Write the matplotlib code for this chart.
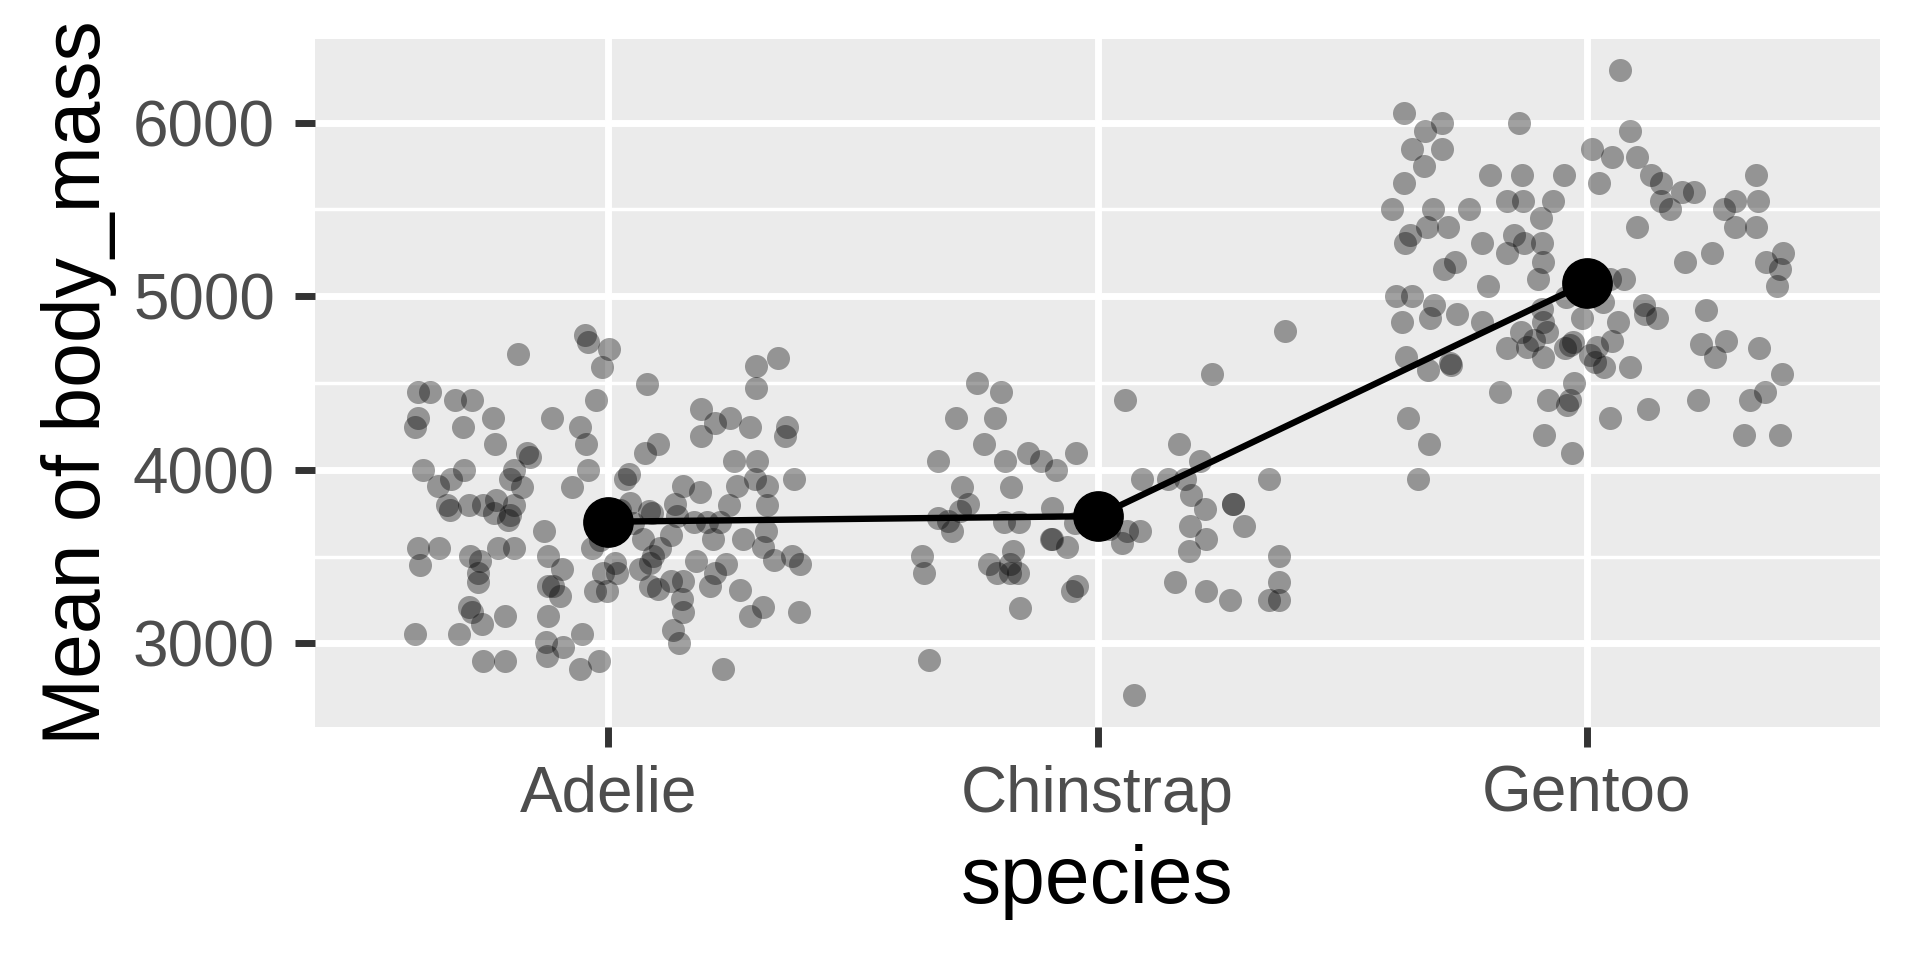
import numpy as np
import matplotlib.pyplot as plt
import matplotlib
import matplotlib.ticker as ticker

matplotlib.rc('font', family=['Liberation Sans', 'DejaVu Sans'])

species = ['Adelie', 'Chinstrap', 'Gentoo']
mean_mass = [3701, 3733, 5076]

# jitter offsets (in category units) and body mass
adelie_dx = [-0.048, -0.041, 0.002, -0.014, -0.184, 0.078, 0.302, 0.346, 0.302, -0.389,
             -0.365, -0.314, -0.280, -0.025, -0.237, -0.389, -0.396, -0.297, -0.115, -0.058,
             -0.046, -0.231, 0.190, 0.218, 0.248, 0.290, 0.190, 0.366, 0.362, 0.102,
             0.074, -0.167, -0.160, -0.379, -0.295, -0.321, -0.348, -0.194, -0.201, -0.176,
             -0.041, -0.074, 0.043, 0.033, 0.256, 0.304, 0.379, 0.300, 0.263, 0.324,
             0.153, 0.188, 0.246, 0.324, -0.331, -0.324, -0.286, -0.257, -0.229, -0.194,
             -0.235, -0.205, -0.201, 0.044, 0.089, 0.082, 0.136, 0.140, 0.174, 0.201,
             0.229, 0.128, -0.131, -0.034, 0.070, 0.214, 0.276, 0.323, 0.317, -0.389,
             -0.346, -0.385, -0.284, -0.263, -0.266, -0.266, -0.225, -0.194, -0.123, -0.095,
             -0.123, -0.113, -0.100, 0.106, 0.092, 0.085, 0.014, 0.017, -0.012, 0.065,
             -0.027, -0.003, 0.085, 0.102, 0.128, 0.153, 0.150, 0.153, 0.179, 0.241,
             0.218, 0.207, 0.338, 0.375, 0.392, 0.268, 0.317, 0.290, 0.389, -0.286,
             -0.280, -0.259, -0.211, -0.123, -0.396, -0.305, -0.128, -0.126, -0.093, -0.055,
             0.133, 0.145, -0.257, -0.211, -0.058, -0.020, 0.235, 0.024, 0.051, -0.017]
adelie_mass = [4774, 4736, 4698, 4593, 4669, 4497, 4597, 4646, 4474, 4449,
               4449, 4402, 4402, 4402, 4296, 4296, 4245, 4245, 4296, 4245,
               4149, 4149, 4348, 4272, 4296, 4245, 4197, 4245, 4197, 4149,
               4096, 4096, 4076, 4000, 4000, 3946, 3904, 4000, 3946, 3899,
               4000, 3901, 3977, 3946, 4048, 4048, 3946, 3946, 3904, 3904,
               3904, 3870, 3799, 3799, 3799, 3771, 3799, 3799, 3828, 3799,
               3751, 3713, 3742, 3809, 3751, 3761, 3803, 3732, 3700, 3700,
               3700, 3627, 3650, 3551, 3602, 3602, 3602, 3650, 3556, 3551,
               3551, 3451, 3503, 3474, 3407, 3354, 3551, 3551, 3503, 3426,
               3331, 3331, 3273, 3551, 3503, 3465, 3465, 3407, 3407, 3426,
               3302, 3302, 3331, 3312, 3359, 3359, 3254, 3178, 3474, 3455,
               3407, 3331, 3480, 3503, 3455, 3306, 3207, 3159, 3178, 3207,
               3178, 3111, 3159, 3159, 3054, 3054, 3006, 2929, 2977, 3054,
               3078, 3000, 2901, 2901, 2853, 2901, 2853, 3771, 3694, 3598]

chinstrap_dx = [0.384, 0.235, 0.057, -0.246, -0.197, -0.289, -0.209, -0.233, -0.327, -0.189,
                -0.143, -0.116, -0.084, -0.043, 0.167, 0.210, 0.092, 0.145, 0.178, 0.351,
                -0.278, -0.177, -0.265, -0.281, -0.327, -0.305, -0.297, -0.192, -0.160, -0.094,
                -0.096, -0.093, -0.063, 0.192, 0.219, 0.278, 0.299, 0.190, 0.221, 0.188,
                0.060, 0.087, 0.051, 0.023, -0.358, -0.354, -0.172, -0.222, -0.206, -0.179,
                -0.179, -0.162, -0.042, -0.053, -0.158, 0.158, 0.221, 0.270, 0.372, 0.372,
                0.350, 0.372, -0.344, 0.074, 0.277, -0.046]
chinstrap_mass = [4799, 4553, 4403, 4499, 4449, 4298, 4298, 4151, 4052, 4052,
                  4098, 4052, 4000, 4098, 4151, 4052, 3948, 3948, 3948, 3948,
                  3902, 3902, 3801, 3763, 3725, 3706, 3648, 3702, 3702, 3782,
                  3604, 3604, 3553, 3853, 3776, 3801, 3677, 3677, 3604, 3530,
                  3648, 3648, 3576, 3658, 3501, 3403, 3533, 3457, 3403, 3457,
                  3403, 3403, 3333, 3304, 3203, 3352, 3304, 3252, 3501, 3352,
                  3252, 3252, 2903, 2702, 3801, 3696]

gentoo_dx = [0.068, -0.374, -0.330, -0.296, -0.139, -0.357, -0.296, -0.332, -0.374, -0.197,
             -0.131, -0.047, -0.162, -0.129, -0.069, -0.398, -0.313, -0.241, -0.094, -0.327,
             -0.284, -0.361, -0.371, -0.214, -0.148, -0.128, -0.091, -0.163, -0.269, -0.291,
             -0.090, -0.100, -0.201, 0.089, 0.012, 0.051, 0.103, 0.025, 0.132, 0.153,
             0.152, 0.195, 0.220, 0.171, 0.347, 0.303, 0.282, 0.350, 0.303, 0.347,
             0.104, 0.256, 0.201, 0.401, 0.366, 0.396, 0.076, 0.048, 0.389,
             -0.389, -0.357, -0.311, -0.320, -0.377, -0.264, -0.213, -0.369, -0.325, -0.277,
             -0.279, -0.163, -0.134, -0.122, -0.108, -0.091, -0.089, -0.081, -0.090, -0.042,
             -0.010, 0.033, 0.065, 0.053, 0.118, 0.120, 0.145, 0.245, 0.233, 0.286,
             0.263, 0.353, 0.399, 0.364, 0.335, 0.227, 0.125, 0.047, 0.088, 0.035,
             0.018, 0.008, 0.021, -0.028, -0.033, -0.044, -0.025, -0.033, -0.040, -0.078,
             -0.178, -0.366, -0.323, -0.088, -0.030, -0.344, 0.321, 0.395]
gentoo_mass = [6302, 6054, 5954, 6000, 6000, 5850, 5850, 5750, 5654, 5700,
               5700, 5700, 5550, 5550, 5550, 5504, 5504, 5504, 5452, 5400,
               5400, 5350, 5308, 5304, 5350, 5304, 5304, 5250, 5198, 5154,
               5198, 5100, 5058, 5954, 5850, 5804, 5804, 5654, 5700, 5654,
               5550, 5602, 5602, 5504, 5700, 5550, 5504, 5550, 5400, 5400,
               5400, 5250, 5198, 5250, 5198, 5154, 5100, 5100, 5058,
               5000, 5000, 4948, 4872, 4849, 4897, 4849, 4651, 4575, 4603,
               4613, 4699, 4795, 4709, 4747, 4929, 4852, 4795, 4647, 4996,
               4872, 4964, 4849, 4743, 4948, 4900, 4872, 4923, 4724, 4743,
               4651, 4699, 4550, 4446, 4402, 4402, 4349, 4297, 4594, 4594,
               4623, 4661, 4709, 4738, 4718, 4699, 4498, 4402, 4373, 4402,
               4446, 4297, 4149, 4201, 4096, 3946, 4201, 4201]

jitter_dx = [adelie_dx, chinstrap_dx, gentoo_dx]
jitter_mass = [adelie_mass, chinstrap_mass, gentoo_mass]

fig = plt.figure(figsize=(19.2, 9.6), dpi=100)
ax = fig.add_axes([315 / 1920, 1 - 726.7 / 960, 1565 / 1920, 687.4 / 960])

ax.set_facecolor('#EBEBEB')
for s in ax.spines.values():
    s.set_visible(False)
ax.set_axisbelow(True)

pos = np.arange(1, len(species) + 1)
for p, dx, m in zip(pos, jitter_dx, jitter_mass):
    ax.scatter(p + np.array(dx), m, s=275, color='black', alpha=0.37,
               linewidths=0, zorder=3)

ax.plot(pos, mean_mass, color='black', lw=4.6, zorder=4)
ax.plot(pos, mean_mass, 'o', color='black', ms=35.5, zorder=5)

ax.set_xlim(0.4, 3.6)
ax.set_ylim(2520, 6480)
ax.set_xticks(pos)
ax.set_xticklabels(species)
ax.yaxis.set_major_locator(ticker.MultipleLocator(1000))
ax.yaxis.set_minor_locator(ticker.MultipleLocator(500))

ax.grid(which='major', color='white', lw=5)
ax.grid(which='minor', axis='y', color='white', lw=2.5)

ax.tick_params(which='major', length=14.4, width=5, color='#333333',
               labelcolor='#4D4D4D', labelsize=46)
ax.tick_params(axis='x', pad=13)
ax.tick_params(axis='y', pad=14.4)
ax.tick_params(which='minor', length=0)

ax.set_xlabel('species', fontsize=58)
ax.set_ylabel('Mean of body_mass', fontsize=58)
ax.xaxis.label.set_va('baseline')
ax.yaxis.label.set_va('baseline')
ax.xaxis.set_label_coords(0.5, -0.2565)
ax.yaxis.set_label_coords(-0.1374, 0.5)

plt.savefig('out.png', dpi=100)
